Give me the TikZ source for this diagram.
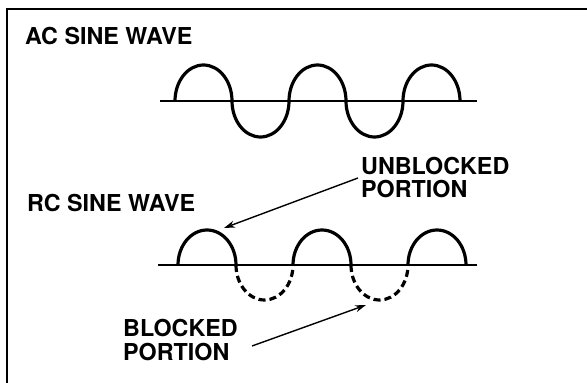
\documentclass[tikz,border=0pt]{standalone}
\usepackage{fontspec}
\setmainfont{TeX Gyre Heros}
\usetikzlibrary{arrows.meta}
\tikzset{
  lbl/.style={anchor=base west,inner sep=0pt,font=\bfseries\fontsize{23.3}{25}\selectfont},
  wave/.style={line width=3.2pt},
  axisline/.style={line width=2.6pt},
  blk/.style={wave,dash pattern=on 7pt off 4pt},
  pointer/.style={line width=1.4pt,-{Stealth[length=11pt,width=7pt]}},
  frameline/.style={line width=2.6pt}
}
\begin{document}
\begin{tikzpicture}[x=1pt,y=1pt]
\useasboundingbox (0,0) rectangle (587,383);
% frame
\draw[frameline] (7,0) -- (7,374) -- (587,374);
% titles
\node[lbl] (ac) at (25,338) {AC SINE WAVE};
\node[lbl] (rc) at (27,171) {RC SINE WAVE};
\node[lbl] (ub1) at (361,208) {UNBLOCKED};
\node[lbl] (ub2) at (361,185) {PORTION};
\node[lbl] (b1) at (123,46) {BLOCKED};
\node[lbl] (b2) at (123,22) {PORTION};
% AC wave
\draw[axisline] (160,282) -- (477,282);
\draw[wave] (175,282)
  arc[start angle=180,end angle=0,x radius=28.5,y radius=36]
  arc[start angle=180,end angle=360,x radius=28.5,y radius=36]
  arc[start angle=180,end angle=0,x radius=28.5,y radius=36]
  arc[start angle=180,end angle=360,x radius=28.5,y radius=36]
  arc[start angle=180,end angle=0,x radius=28.5,y radius=36];
% RC wave
\draw[axisline] (158,118) -- (477,118);
\draw[wave] (178,118) arc[start angle=180,end angle=0,x radius=29,y radius=35];
\draw[blk] (236,118) arc[start angle=180,end angle=360,x radius=28.5,y radius=35];
\draw[wave] (293,118) arc[start angle=180,end angle=0,x radius=29,y radius=35];
\draw[blk] (351,118) arc[start angle=180,end angle=360,x radius=28.5,y radius=35];
\draw[wave] (408,118) arc[start angle=180,end angle=0,x radius=29,y radius=35];
% pointers
\coordinate (ubtail) at (358,205);
\coordinate (ubtip) at (224,155);
\coordinate (btail) at (252,37);
\coordinate (btip) at (366,78);
\draw[pointer] (ubtail) -- (ubtip);
\draw[pointer] (btail) -- (btip);
\end{tikzpicture}
\end{document}
